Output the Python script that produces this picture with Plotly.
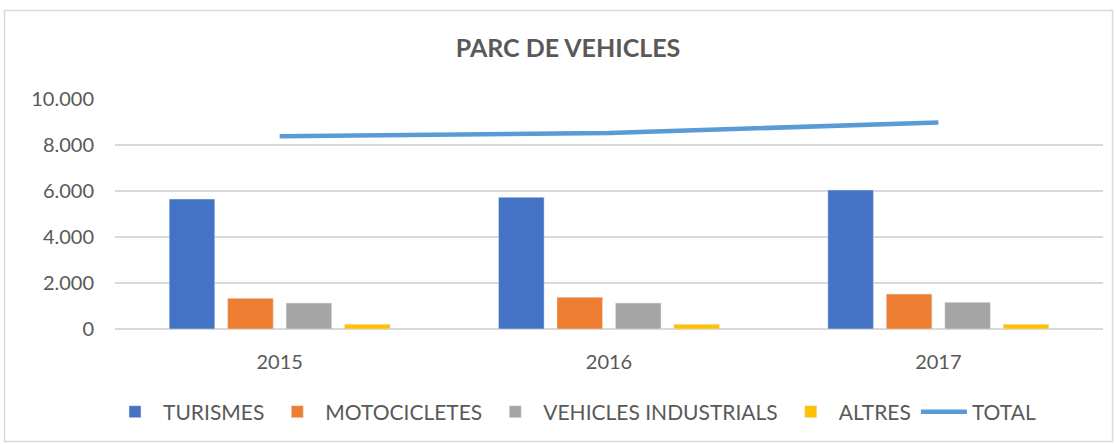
import plotly.graph_objects as go

years = ["2015", "2016", "2017"]
turismes = [5650, 5730, 6045]
motocicletes = [1335, 1380, 1520]
vehicles_industrials = [1130, 1130, 1160]
altres = [205, 205, 205]
total = [8380, 8520, 8980]

W, H = 1116, 444
ML, MR, MT, MB = 115, 13, 99, 115
PW, PH = W - ML - MR, H - MT - MB

def px_x(p):
    return (p - ML) / PW

def px_y(p):
    return (H - MB - p) / PH

fig = go.Figure()
fig.add_trace(go.Bar(name="TURISMES", x=years, y=turismes, marker_color="#4472C4"))
fig.add_trace(go.Bar(name="MOTOCICLETES", x=years, y=motocicletes, marker_color="#ED7D31"))
fig.add_trace(go.Bar(name="VEHICLES INDUSTRIALS", x=years, y=vehicles_industrials, marker_color="#A5A5A5"))
fig.add_trace(go.Bar(name="ALTRES", x=years, y=altres, marker_color="#FFC000"))
fig.add_trace(go.Scatter(name="TOTAL", x=years, y=total, mode="lines",
                         line=dict(color="#5B9BD5", width=4.5, shape="spline", smoothing=0.3)))

fig.update_layout(
    width=W, height=H,
    margin=dict(l=ML, r=MR, t=MT, b=MB),
    paper_bgcolor="white", plot_bgcolor="white",
    barmode="group", bargap=0.29, bargroupgap=0.22,
    separators=",.",
    font=dict(family="Lato, Open Sans, sans-serif", color="#595959", size=20),
    title=dict(text="<b>PARC DE VEHICLES</b>", x=px_x(568), xref="paper", xanchor="center",
               y=1 - 48 / H, yanchor="middle", font=dict(size=25, color="#595959")),
    showlegend=True,
    legend=dict(orientation="h", x=px_x(574), xanchor="center", y=px_y(412), yanchor="middle",
                font=dict(size=21, color="#595959"), itemwidth=46, traceorder="normal",
                bgcolor="rgba(0,0,0,0)"),
    shapes=[dict(type="rect", xref="paper", yref="paper",
                 x0=px_x(4.5), x1=px_x(1112.5), y0=px_y(441.5), y1=px_y(10.5),
                 line=dict(color="#D9D9D9", width=1.5), fillcolor="rgba(0,0,0,0)", layer="below")],
)
fig.update_xaxes(showgrid=False, showline=False, zeroline=False, ticks="",
                 tickfont=dict(size=20, color="#595959"), ticklabelstandoff=19)
fig.update_yaxes(range=[0, 10000], dtick=2000, tickformat=",d", showgrid=True,
                 gridcolor="#D9D9D9", gridwidth=1.5, zeroline=True, zerolinecolor="#D9D9D9",
                 zerolinewidth=1.5, showline=False, ticks="",
                 tickfont=dict(size=20, color="#595959"), ticklabelstandoff=20)

fig.write_html("out.html", config={"displayModeBar": False},
               post_script="document.body.style.margin='0';")
